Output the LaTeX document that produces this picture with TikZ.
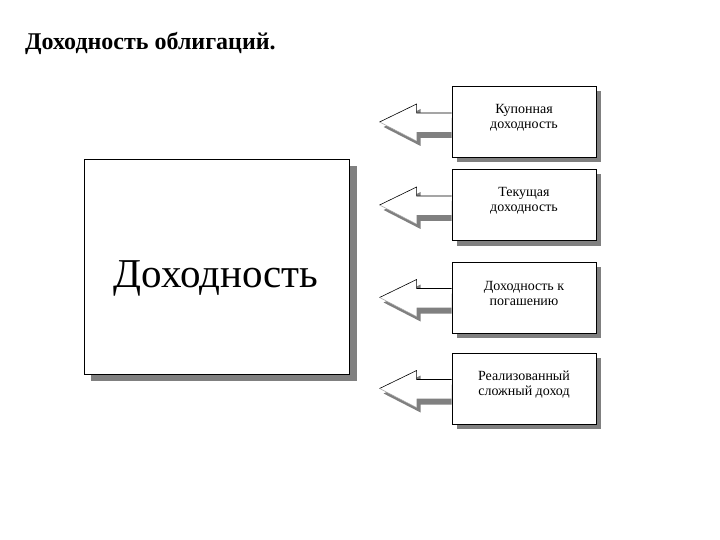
\documentclass[tikz,border=0pt]{standalone}
\usepackage{fontspec}
\setmainfont{Liberation Serif}
\usetikzlibrary{calc}
\definecolor{shadowgray}{RGB}{128,128,128}
\tikzset{
  bigbox/.style={draw=black, line width=0.8pt, fill=white, minimum width=265pt, minimum height=215pt, inner sep=0pt},
  smallbox/.style={draw=black, line width=0.8pt, fill=white, minimum width=144pt, minimum height=71pt, inner sep=0pt},
  smalltext/.style={align=center, font=\fontsize{14}{15.5}\selectfont, inner sep=0pt},
  arrowedge/.style={line width=0.6pt, black},
  arrowlow/.style={line width=0.5pt, shadowgray!70},
}
\newcommand{\blockarrow}[1]{%
  \fill[shadowgray] ([shift={(0,-4)}]#1.west) -- ([shift={(-31,-4)}]#1.west) -- ([shift={(-31,-13)}]#1.west)
     -- ([shift={(-68,5)}]#1.west) -- ([shift={(-31,24)}]#1.west) -- ([shift={(-31,16)}]#1.west) -- ([shift={(0,16)}]#1.west) -- cycle;
  \fill[white] ([shift={(0,-9)}]#1.west) -- ([shift={(-35,-9)}]#1.west) -- ([shift={(-35,-18)}]#1.west)
     -- ([shift={(-72,0)}]#1.west) -- ([shift={(-35,19)}]#1.west) -- ([shift={(-35,10)}]#1.west) -- ([shift={(0,10)}]#1.west) -- cycle;
  \draw[arrowedge] ([shift={(0,-9)}]#1.west) -- ([shift={(-35,-9)}]#1.west) -- ([shift={(-35,-18)}]#1.west) -- ([shift={(-72,0)}]#1.west);
  \draw[arrowlow] ([shift={(-72,0)}]#1.west) -- ([shift={(-35,19)}]#1.west);
}
\begin{document}
\begin{tikzpicture}[x=1pt,y=-1pt]
\useasboundingbox (0,0) rectangle (720,540);
% title
\node[anchor=base west, inner sep=0pt, font=\fontsize{24}{28}\selectfont\bfseries] (title) at (25,50) {Доходность облигаций.};
% main box
\fill[shadowgray] (91,166) rectangle (357,381);
\node[bigbox] (main) at (216.5,266.5) {};
\node[anchor=base, inner sep=0pt, font=\fontsize{41}{46}\selectfont] (maintext) at (216,287) {Доходность};
% small boxes
\foreach \n/\y in {b1/122, b2/205, b3/297.5, b4/388.5}{
  \fill[shadowgray] (457,\y-30.5) rectangle (601,\y+40.5);
  \node[smallbox] (\n) at (524,\y) {};
}
\node[smalltext] (t1) at ([yshift=4pt]b1.center) {Купонная\\доходность};
\node[smalltext] (t2) at ([yshift=4pt]b2.center) {Текущая\\доходность};
\node[smalltext] (t3) at ([yshift=4pt]b3.center) {Доходность к\\погашению};
\node[smalltext] (t4) at ([yshift=4pt]b4.center) {Реализованный\\сложный доход};
\blockarrow{b1}
\blockarrow{b2}
\blockarrow{b3}
\blockarrow{b4}
\end{tikzpicture}
\end{document}
